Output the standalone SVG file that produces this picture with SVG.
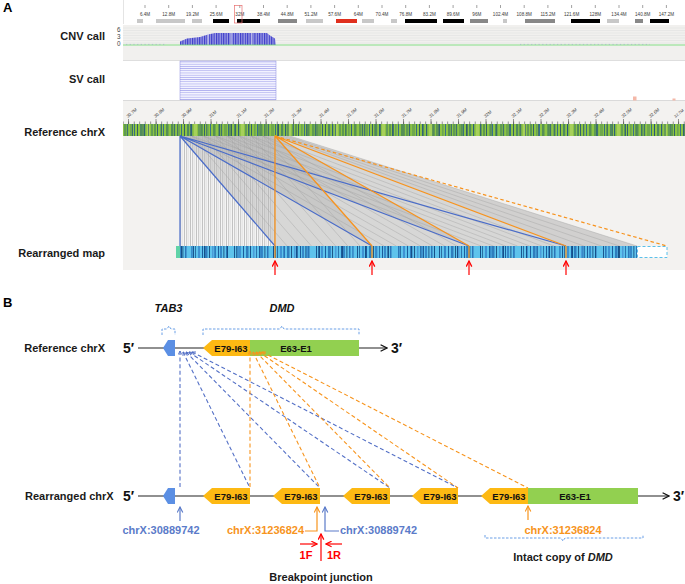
<svg xmlns="http://www.w3.org/2000/svg" width="685" height="584" viewBox="0 0 685 584">
<defs>
<style>
text{font-family:"Liberation Sans",Arial,sans-serif}
.lb{font-weight:bold;font-size:11px;fill:#1a1a1a}
.pl{font-weight:bold;font-size:13px;fill:#000}
.tk{font-size:4.6px;fill:#3a3a3a;text-anchor:middle}
.tk2{font-size:4.4px;fill:#333}
.ex{font-weight:bold;font-size:9.5px;fill:#111;text-anchor:middle}
.pr{font-weight:bold;font-size:14px;fill:#111}
.dB{fill:none;stroke:#5470c6;stroke-width:1.1;stroke-dasharray:4 2.6}
.dO{fill:none;stroke:#f7941d;stroke-width:1.1;stroke-dasharray:4 2.6}
.yel{fill:#fdb913}
.grn{fill:#92d050}
.tab{fill:#5b8fe4}
.bl{fill:#5b7bc9;font-weight:bold;font-size:11px}
.or{fill:#f7941d;font-weight:bold;font-size:11px}
.rd{fill:#ff0000;font-weight:bold;font-size:11px}
.cn{font-size:6.3px;fill:#444}
</style>
<marker id="ahK" viewBox="0 0 10 10" refX="9" refY="5" markerWidth="8" markerHeight="8" orient="auto" markerUnits="userSpaceOnUse"><path d="M1,1 L9,5 L1,9" fill="none" stroke="#111" stroke-width="1.6"/></marker>
<marker id="ahB" viewBox="0 0 10 10" refX="9" refY="5" markerWidth="7" markerHeight="7" orient="auto" markerUnits="userSpaceOnUse"><path d="M1,1 L9,5 L1,9" fill="none" stroke="#5b7bc9" stroke-width="1.6"/></marker>
<marker id="ahO" viewBox="0 0 10 10" refX="9" refY="5" markerWidth="7" markerHeight="7" orient="auto" markerUnits="userSpaceOnUse"><path d="M1,1 L9,5 L1,9" fill="none" stroke="#f7941d" stroke-width="1.6"/></marker>
<marker id="ahR" viewBox="0 0 10 10" refX="9" refY="5" markerWidth="7" markerHeight="7" orient="auto" markerUnits="userSpaceOnUse"><path d="M1,1 L9,5 L1,9" fill="none" stroke="#ff0000" stroke-width="1.8"/></marker>
<marker id="smB" viewBox="0 0 10 10" refX="9" refY="5" markerWidth="4.5" markerHeight="4.5" orient="auto-start-reverse" markerUnits="userSpaceOnUse"><path d="M1,1 L9,5 L1,9" fill="none" stroke="#5470c6" stroke-width="2"/></marker>
<marker id="smO" viewBox="0 0 10 10" refX="9" refY="5" markerWidth="4.5" markerHeight="4.5" orient="auto-start-reverse" markerUnits="userSpaceOnUse"><path d="M1,1 L9,5 L1,9" fill="none" stroke="#f7941d" stroke-width="2"/></marker>
<pattern id="cnvp" patternUnits="userSpaceOnUse" width="2.4" height="20"><rect width="2.4" height="20" fill="#9c9ce4"/><rect width="1.1" height="20" fill="#3a3ac8"/></pattern>
<pattern id="svp" patternUnits="userSpaceOnUse" width="10" height="2.2"><rect width="10" height="2.2" fill="#f2f2ff"/><rect width="10" height="0.7" fill="#aaaaee"/></pattern>
<pattern id="gb" patternUnits="userSpaceOnUse" x="123" y="124" width="47" height="12">
<rect width="47" height="12" fill="#8cc443"/>
<rect x="1" width="2.5" height="12" fill="#5f9b52"/>
<rect x="4.2" width="0.9" height="12" fill="#2a5f7a"/>
<rect x="7" width="3" height="12" fill="#6ea84e"/>
<rect x="11" width="1" height="12" fill="#35707e"/>
<rect x="14" width="0.8" height="12" fill="#1b466f"/>
<rect x="17" width="2.2" height="12" fill="#4f8a5e"/>
<rect x="21" width="1.2" height="12" fill="#2d6278"/>
<rect x="24" width="3" height="12" fill="#a6d05a"/>
<rect x="28.5" width="1" height="12" fill="#3a7468"/>
<rect x="31" width="2" height="12" fill="#5c9850"/>
<rect x="34" width="0.8" height="12" fill="#1a4a78"/>
<rect x="37" width="1.6" height="12" fill="#6aa454"/>
<rect x="40" width="1" height="12" fill="#37718a"/>
<rect x="43" width="2.5" height="12" fill="#558f56"/>
</pattern>
<pattern id="gb2" patternUnits="userSpaceOnUse" x="123" y="124" width="29" height="12"><rect x="9" width="1" height="12" fill="#22537f" opacity="0.7"/><rect x="19" width="2" height="12" fill="#4b855c" opacity="0.7"/><rect x="25" width="0.8" height="12" fill="#2a5a74" opacity="0.8"/></pattern>
<pattern id="bb" patternUnits="userSpaceOnUse" x="176" y="246" width="41" height="12">
<rect width="41" height="12" fill="#5ec3ec"/>
<rect x="1" width="1" height="12" fill="#1c5b9b"/>
<rect x="3" width="2" height="12" fill="#3688c8"/>
<rect x="6.5" width="0.8" height="12" fill="#0f3f75"/>
<rect x="9" width="1.5" height="12" fill="#2b76b8"/>
<rect x="17" width="1" height="12" fill="#1a568f"/>
<rect x="19" width="0.7" height="12" fill="#124a84"/>
<rect x="22" width="2" height="12" fill="#3f92d2"/>
<rect x="26" width="1" height="12" fill="#1b5c9c"/>
<rect x="29" width="2.5" height="12" fill="#2f7dbd"/>
<rect x="33" width="0.8" height="12" fill="#0e3c70"/>
<rect x="36" width="1.5" height="12" fill="#4a9bd8"/>
<rect x="39" width="0.8" height="12" fill="#1e5f9e"/>
</pattern>
<pattern id="bb2" patternUnits="userSpaceOnUse" x="176" y="246" width="23" height="12"><rect x="5" width="1" height="12" fill="#15508a"/><rect x="15" width="1.8" height="12" fill="#2f80c2" opacity="0.8"/></pattern>
<pattern id="vs" patternUnits="userSpaceOnUse" x="180" y="136" width="6" height="10"><rect width="6" height="10" fill="#f6f6f6"/><rect width="1.2" height="10" fill="#cdcdcd"/><rect x="2.5" width="0.6" height="10" fill="#d9d9d9"/><rect x="4" width="1" height="10" fill="#c2c2c2"/></pattern>
<pattern id="mt" patternUnits="userSpaceOnUse" x="128.25" y="121.5" width="5.5" height="3"><rect width="0.5" height="3" fill="#333"/></pattern>
</defs>

<!-- ============ PANEL A ============ -->
<g id="panelA">
<text class="pl" x="3" y="12">A</text>
<g id="ideogram">
<rect x="123" y="0" width="562" height="24" fill="#ffffff"/>
<rect x="123" y="0" width="1" height="24" fill="#e4e4e4"/>
<path d="M145,5V8M168.7,5V8M192.4,5V8M216.1,5V8M239.8,5V8M263.5,5V8M287.2,5V8M310.9,5V8M334.6,5V8M358.3,5V8M382,5V8M405.7,5V8M429.4,5V8M453.1,5V8M476.8,5V8M500.5,5V8M524.2,5V8M547.9,5V8M571.6,5V8M595.3,5V8M619,5V8M642.7,5V8M666.4,5V8" stroke="#444" stroke-width="0.5"/>
<text class="tk" x="145" y="15.5">6.4M</text>
<text class="tk" x="168.7" y="15.5">12.8M</text>
<text class="tk" x="192.4" y="15.5">19.2M</text>
<text class="tk" x="216.1" y="15.5">25.6M</text>
<text class="tk" x="239.8" y="15.5">32M</text>
<text class="tk" x="263.5" y="15.5">38.4M</text>
<text class="tk" x="287.2" y="15.5">44.8M</text>
<text class="tk" x="310.9" y="15.5">51.2M</text>
<text class="tk" x="334.6" y="15.5">57.6M</text>
<text class="tk" x="358.3" y="15.5">64M</text>
<text class="tk" x="382" y="15.5">70.4M</text>
<text class="tk" x="405.7" y="15.5">76.8M</text>
<text class="tk" x="429.4" y="15.5">83.2M</text>
<text class="tk" x="453.1" y="15.5">89.6M</text>
<text class="tk" x="476.8" y="15.5">96M</text>
<text class="tk" x="500.5" y="15.5">102.4M</text>
<text class="tk" x="524.2" y="15.5">108.8M</text>
<text class="tk" x="547.9" y="15.5">115.2M</text>
<text class="tk" x="571.6" y="15.5">121.6M</text>
<text class="tk" x="595.3" y="15.5">128M</text>
<text class="tk" x="619" y="15.5">134.4M</text>
<text class="tk" x="642.7" y="15.5">140.8M</text>
<text class="tk" x="666.4" y="15.5">147.2M</text>
<g id="bands">
<rect x="137" y="19" width="6" height="4" fill="#c8c8c8"/>
<rect x="156" y="19" width="29" height="4" fill="#c8c8c8"/>
<rect x="192" y="19" width="10" height="4" fill="#c8c8c8"/>
<rect x="213" y="19" width="16" height="4" fill="#000"/>
<rect x="237" y="19" width="23" height="4" fill="#000"/>
<rect x="278" y="19" width="19" height="4" fill="#888"/>
<rect x="306" y="19" width="17" height="4" fill="#c8c8c8"/>
<rect x="336" y="19" width="21" height="4" fill="#e0301e"/>
<rect x="362" y="19" width="12" height="4" fill="#c8c8c8"/>
<rect x="391" y="19" width="6" height="4" fill="#c8c8c8"/>
<rect x="405" y="19" width="32" height="4" fill="#000"/>
<rect x="443" y="19" width="21" height="4" fill="#000"/>
<rect x="470" y="19" width="18" height="4" fill="#888"/>
<rect x="503" y="19" width="4" height="4" fill="#c8c8c8"/>
<rect x="525" y="19" width="30" height="4" fill="#888"/>
<rect x="571" y="19" width="29" height="4" fill="#000"/>
<rect x="607" y="19" width="12" height="4" fill="#c8c8c8"/>
<rect x="635" y="19" width="8" height="4" fill="#888"/>
<rect x="650" y="19" width="19" height="4" fill="#000"/>
</g>
<rect x="234.5" y="5.5" width="7.5" height="17.5" fill="none" stroke="#e87070" stroke-width="0.7"/>
</g>

<g id="cnv">
<text class="lb" x="105" y="40" text-anchor="end">CNV call</text>
<rect x="123" y="25" width="562" height="35" fill="#f1f0ee"/>
<path d="M123,28H685M123,30.5H685M123,33H685M123,35.5H685M123,38H685M123,40.5H685M123,43H685" stroke="#d9d9d9" stroke-width="0.4"/>
<path d="M123,60.5H685" stroke="#d6d6d6" stroke-width="0.8"/>
<text class="cn" x="117" y="32">6</text>
<text class="cn" x="117" y="39.2">3</text>
<text class="cn" x="117" y="46.4">0</text>
<polygon points="180,45 180,41.5 187,38.5 200,37 208,34.5 215,33 267,33 270,35.5 275,38.5 276,45" fill="url(#cnvp)"/>
<path d="M208,33V45M231,33V45M252,33V45" stroke="#e6e6f6" stroke-width="0.8"/>
<path d="M123,45H685" stroke="#6cdc6c" stroke-width="0.8"/>
<path d="M126,44.4H165M520,44.4H650" stroke="#8e8ed0" stroke-width="0.6" stroke-dasharray="1.2 2.5" opacity="0.7"/>
</g>

<g id="sv">
<text class="lb" x="105" y="83" text-anchor="end">SV call</text>
<rect x="123" y="61" width="562" height="39" fill="#ffffff"/>
<rect x="180" y="61" width="96" height="39" fill="url(#svp)" stroke="#8c8ce0" stroke-width="0.5"/>
<path d="M123,100.5H685" stroke="#d0d0d0" stroke-width="0.8"/>
<rect x="633" y="96.5" width="3.5" height="4" fill="#f4b8a8"/>
<rect x="672.5" y="98.5" width="3" height="2" fill="#f4b8a8"/>
</g>

<g id="mapPanel">
<rect x="123" y="101" width="562" height="169" fill="#f3f2f0"/>
<text class="lb" x="105" y="136" text-anchor="end">Reference chrX</text>
<text class="lb" x="105" y="257" text-anchor="end">Rearranged map</text>
<g id="refTicks">
<path d="M128.5,119V124M156,119V124M183.5,119V124M211,119V124M238.5,119V124M266,119V124M293.5,119V124M321,119V124M348.5,119V124M376,119V124M403.5,119V124M431,119V124M458.5,119V124M486,119V124M513.5,119V124M541,119V124M568.5,119V124M596,119V124M623.5,119V124M651,119V124M678.5,119V124" stroke="#333" stroke-width="0.5"/>
<rect x="123" y="121.5" width="562" height="2.5" fill="url(#mt)"/>
<text class="tk2" transform="translate(128,118) rotate(-40)">30.7M</text>
<text class="tk2" transform="translate(155.5,118) rotate(-40)">30.8M</text>
<text class="tk2" transform="translate(183,118) rotate(-40)">30.9M</text>
<text class="tk2" transform="translate(210.5,118) rotate(-40)">31M</text>
<text class="tk2" transform="translate(238,118) rotate(-40)">31.1M</text>
<text class="tk2" transform="translate(265.5,118) rotate(-40)">31.2M</text>
<text class="tk2" transform="translate(293,118) rotate(-40)">31.3M</text>
<text class="tk2" transform="translate(320.5,118) rotate(-40)">31.4M</text>
<text class="tk2" transform="translate(348,118) rotate(-40)">31.5M</text>
<text class="tk2" transform="translate(375.5,118) rotate(-40)">31.6M</text>
<text class="tk2" transform="translate(403,118) rotate(-40)">31.7M</text>
<text class="tk2" transform="translate(430.5,118) rotate(-40)">31.8M</text>
<text class="tk2" transform="translate(458,118) rotate(-40)">31.9M</text>
<text class="tk2" transform="translate(485.5,118) rotate(-40)">32M</text>
<text class="tk2" transform="translate(513,118) rotate(-40)">32.1M</text>
<text class="tk2" transform="translate(540.5,118) rotate(-40)">32.2M</text>
<text class="tk2" transform="translate(568,118) rotate(-40)">32.3M</text>
<text class="tk2" transform="translate(595.5,118) rotate(-40)">32.4M</text>
<text class="tk2" transform="translate(623,118) rotate(-40)">32.5M</text>
<text class="tk2" transform="translate(650.5,118) rotate(-40)">32.6M</text>
<text class="tk2" style="font-size:4px" transform="translate(675.5,118) rotate(-40)">32.7M</text>
</g>
<g id="refBand">
<rect x="123" y="124" width="562" height="12" fill="url(#gb)"/>
<rect x="123" y="124" width="562" height="12" fill="url(#gb2)"/>
</g>
<g id="alignments">
<rect x="180" y="136" width="95" height="110" fill="url(#vs)"/>
<polygon points="180,136 275,136 372,246 275,246" fill="#b5b5b5" opacity="0.45"/>
<polygon points="180,136 275,136 469,246 372,246" fill="#b5b5b5" opacity="0.45"/>
<polygon points="180,136 275,136 566,246 469,246" fill="#b5b5b5" opacity="0.45"/>
<polygon points="275,136 290,136 637,246 566,246" fill="#b5b5b5" opacity="0.55"/>
<path d="M191.9,136L287.1,246M203.8,136L299.3,246M215.6,136L311.4,246M227.5,136L323.5,246M239.4,136L335.6,246M251.3,136L347.8,246M263.1,136L359.9,246
M191.9,136L384.1,246M203.8,136L396.3,246M215.6,136L408.4,246M227.5,136L420.5,246M239.4,136L432.6,246M251.3,136L444.8,246M263.1,136L456.9,246
M191.9,136L481.1,246M203.8,136L493.3,246M215.6,136L505.4,246M227.5,136L517.5,246M239.4,136L529.6,246M251.3,136L541.8,246M263.1,136L553.9,246
M278.8,136L583.8,246M282.5,136L601.5,246M286.3,136L619.3,246M290,136L637,246" stroke="#a0a0a0" stroke-width="0.5" fill="none" opacity="0.8"/>
</g>
<g id="mapLinesA" fill="none">
<path d="M180,136V246M180,136L275,246M180,136L372,246M180,136L469,246M180,136L566,246" stroke="#4a6cc8" stroke-width="1.2"/>
<path d="M275,136V246M275,136L372,246M275,136L469,246M275,136L566,246" stroke="#f7931e" stroke-width="1.3"/>
<path d="M275,136L667,246" stroke="#f7931e" stroke-width="1.2" stroke-dasharray="3.5 2.5"/>
</g>
<g id="rearrBand">
<rect x="176" y="246" width="461" height="12" fill="url(#bb)"/>
<rect x="176" y="246" width="461" height="12" fill="url(#bb2)"/>
<rect x="176" y="246" width="4" height="12" fill="#5fd3a8"/>
<rect x="637.5" y="246.5" width="29.5" height="11" fill="#ffffff" stroke="#5bc0eb" stroke-width="1" stroke-dasharray="3 2"/>
<path d="M275,246V258M372,246V258M469,246V258M566,246V258" stroke="#f7931e" stroke-width="1.3"/>
</g>
<g id="redArrowsA" stroke="#ff0000" stroke-width="1.2" fill="none">
<path d="M275,275V261" marker-end="url(#ahR)"/>
<path d="M372,275V261" marker-end="url(#ahR)"/>
<path d="M469,275V261" marker-end="url(#ahR)"/>
<path d="M566,275V261" marker-end="url(#ahR)"/>
</g>
</g>
</g>

<!-- ============ PANEL B ============ -->
<g id="panelB">
<text class="pl" x="3" y="307">B</text>
<text x="168.5" y="312" style="font-weight:bold;font-style:italic;font-size:11px;fill:#111" text-anchor="middle">TAB3</text>
<text x="282" y="312" style="font-weight:bold;font-style:italic;font-size:11px;fill:#111" text-anchor="middle">DMD</text>
<path d="M162,335V329H167L169,326L171,329H175V335" fill="none" stroke="#6a9fe6" stroke-width="1" stroke-dasharray="2.5 1.5"/>
<path d="M203,335V329H280L282,326L284,329H359V335" fill="none" stroke="#6a9fe6" stroke-width="1" stroke-dasharray="2.5 1.5"/>

<g id="refRow">
<text class="lb" x="105" y="352" text-anchor="end">Reference chrX</text>
<text class="pr" x="123" y="353">5′</text>
<path d="M138,348H387" stroke="#222" stroke-width="1.2" marker-end="url(#ahK)"/>
<text class="pr" x="391" y="353">3′</text>
</g>
<g id="refTAB3"><polygon class="tab" points="163,348 168,340 175,340 175,356 168,356"/></g>
<g id="refE79"><polygon class="yel" points="203,348 212,340 250,340 250,356 212,356"/><text class="ex" x="231" y="351.5">E79-I63</text></g>
<g id="refE63"><rect class="grn" x="250" y="340" width="109" height="16"/><text class="ex" x="296" y="351.5">E63-E1</text></g>

<g id="connectorsB">
<path class="dB" d="M180,351V488" marker-start="url(#smB)"/>
<path class="dB" d="M183,352L250,488" marker-start="url(#smB)"/>
<path class="dB" d="M186,352L320,488" marker-start="url(#smB)"/>
<path class="dB" d="M189,352L390,488" marker-start="url(#smB)"/>
<path class="dB" d="M192,352L458,488" marker-start="url(#smB)"/>
<path class="dO" d="M250,351V488" marker-start="url(#smO)"/>
<path class="dO" d="M253,352L320,488" marker-start="url(#smO)"/>
<path class="dO" d="M256,352L390,488" marker-start="url(#smO)"/>
<path class="dO" d="M259,352L458,488" marker-start="url(#smO)"/>
<path class="dO" d="M262,352L528,488" marker-start="url(#smO)"/>
</g>

<g id="rearrRow">
<text class="lb" x="25" y="500">Rearranged chrX</text>
<text class="pr" x="123" y="501">5′</text>
<path d="M138,496H669" stroke="#222" stroke-width="1.2" marker-end="url(#ahK)"/>
<text class="pr" x="673" y="501">3′</text>
</g>
<g id="rTAB3"><polygon class="tab" points="163,496 168,488 175,488 175,504 168,504"/></g>
<g id="rE79a"><polygon class="yel" points="203,496 212,488 250,488 250,504 212,504"/><text class="ex" x="231" y="499.5">E79-I63</text></g>
<g id="rE79b"><polygon class="yel" points="273,496 282,488 320,488 320,504 282,504"/><text class="ex" x="301" y="499.5">E79-I63</text></g>
<g id="rE79c"><polygon class="yel" points="343,496 352,488 390,488 390,504 352,504"/><text class="ex" x="371" y="499.5">E79-I63</text></g>
<g id="rE79d"><polygon class="yel" points="412,496 421,488 458,488 458,504 421,504"/><text class="ex" x="440" y="499.5">E79-I63</text></g>
<g id="rE79e"><polygon class="yel" points="481,496 490,488 528,488 528,504 490,504"/><text class="ex" x="509" y="499.5">E79-I63</text></g>
<g id="rE63"><rect class="grn" x="528" y="488" width="110" height="16"/><text class="ex" x="575" y="499.5">E63-E1</text></g>

<g id="annotations" fill="none">
<path d="M180,521V507" stroke="#5b7bc9" stroke-width="1.2" marker-end="url(#ahB)"/>
<text class="bl" x="161" y="534" text-anchor="middle">chrX:30889742</text>
<path d="M305,531H317V507" stroke="#f7941d" stroke-width="1.2" marker-end="url(#ahO)"/>
<text class="or" x="304" y="534" text-anchor="end">chrX:31236824</text>
<path d="M339,531H325V507" stroke="#5b7bc9" stroke-width="1.2" marker-end="url(#ahB)"/>
<text class="bl" x="340" y="534">chrX:30889742</text>
<path d="M321,561V534" stroke="#ff0000" stroke-width="1.2" marker-end="url(#ahR)"/>
<path d="M300,544H317" stroke="#ff0000" stroke-width="1.2" marker-end="url(#ahR)"/>
<path d="M342,544H326" stroke="#ff0000" stroke-width="1.2" marker-end="url(#ahR)"/>
<text class="rd" x="306" y="559" text-anchor="middle">1F</text>
<text class="rd" x="334" y="559" text-anchor="middle">1R</text>
<text class="lb" x="321" y="581" text-anchor="middle">Breakpoint junction</text>
<path d="M528,520V506" stroke="#f7941d" stroke-width="1.2" marker-end="url(#ahO)"/>
<text class="or" x="563" y="534" text-anchor="middle">chrX:31236824</text>
<path d="M485,535V538H561L563,541L565,538H643V535" stroke="#6a9fe6" stroke-width="1" stroke-dasharray="2.5 1.5"/>
<text class="lb" x="563" y="561" text-anchor="middle">Intact copy of <tspan font-style="italic">DMD</tspan></text>
</g>
</g>
</svg>
